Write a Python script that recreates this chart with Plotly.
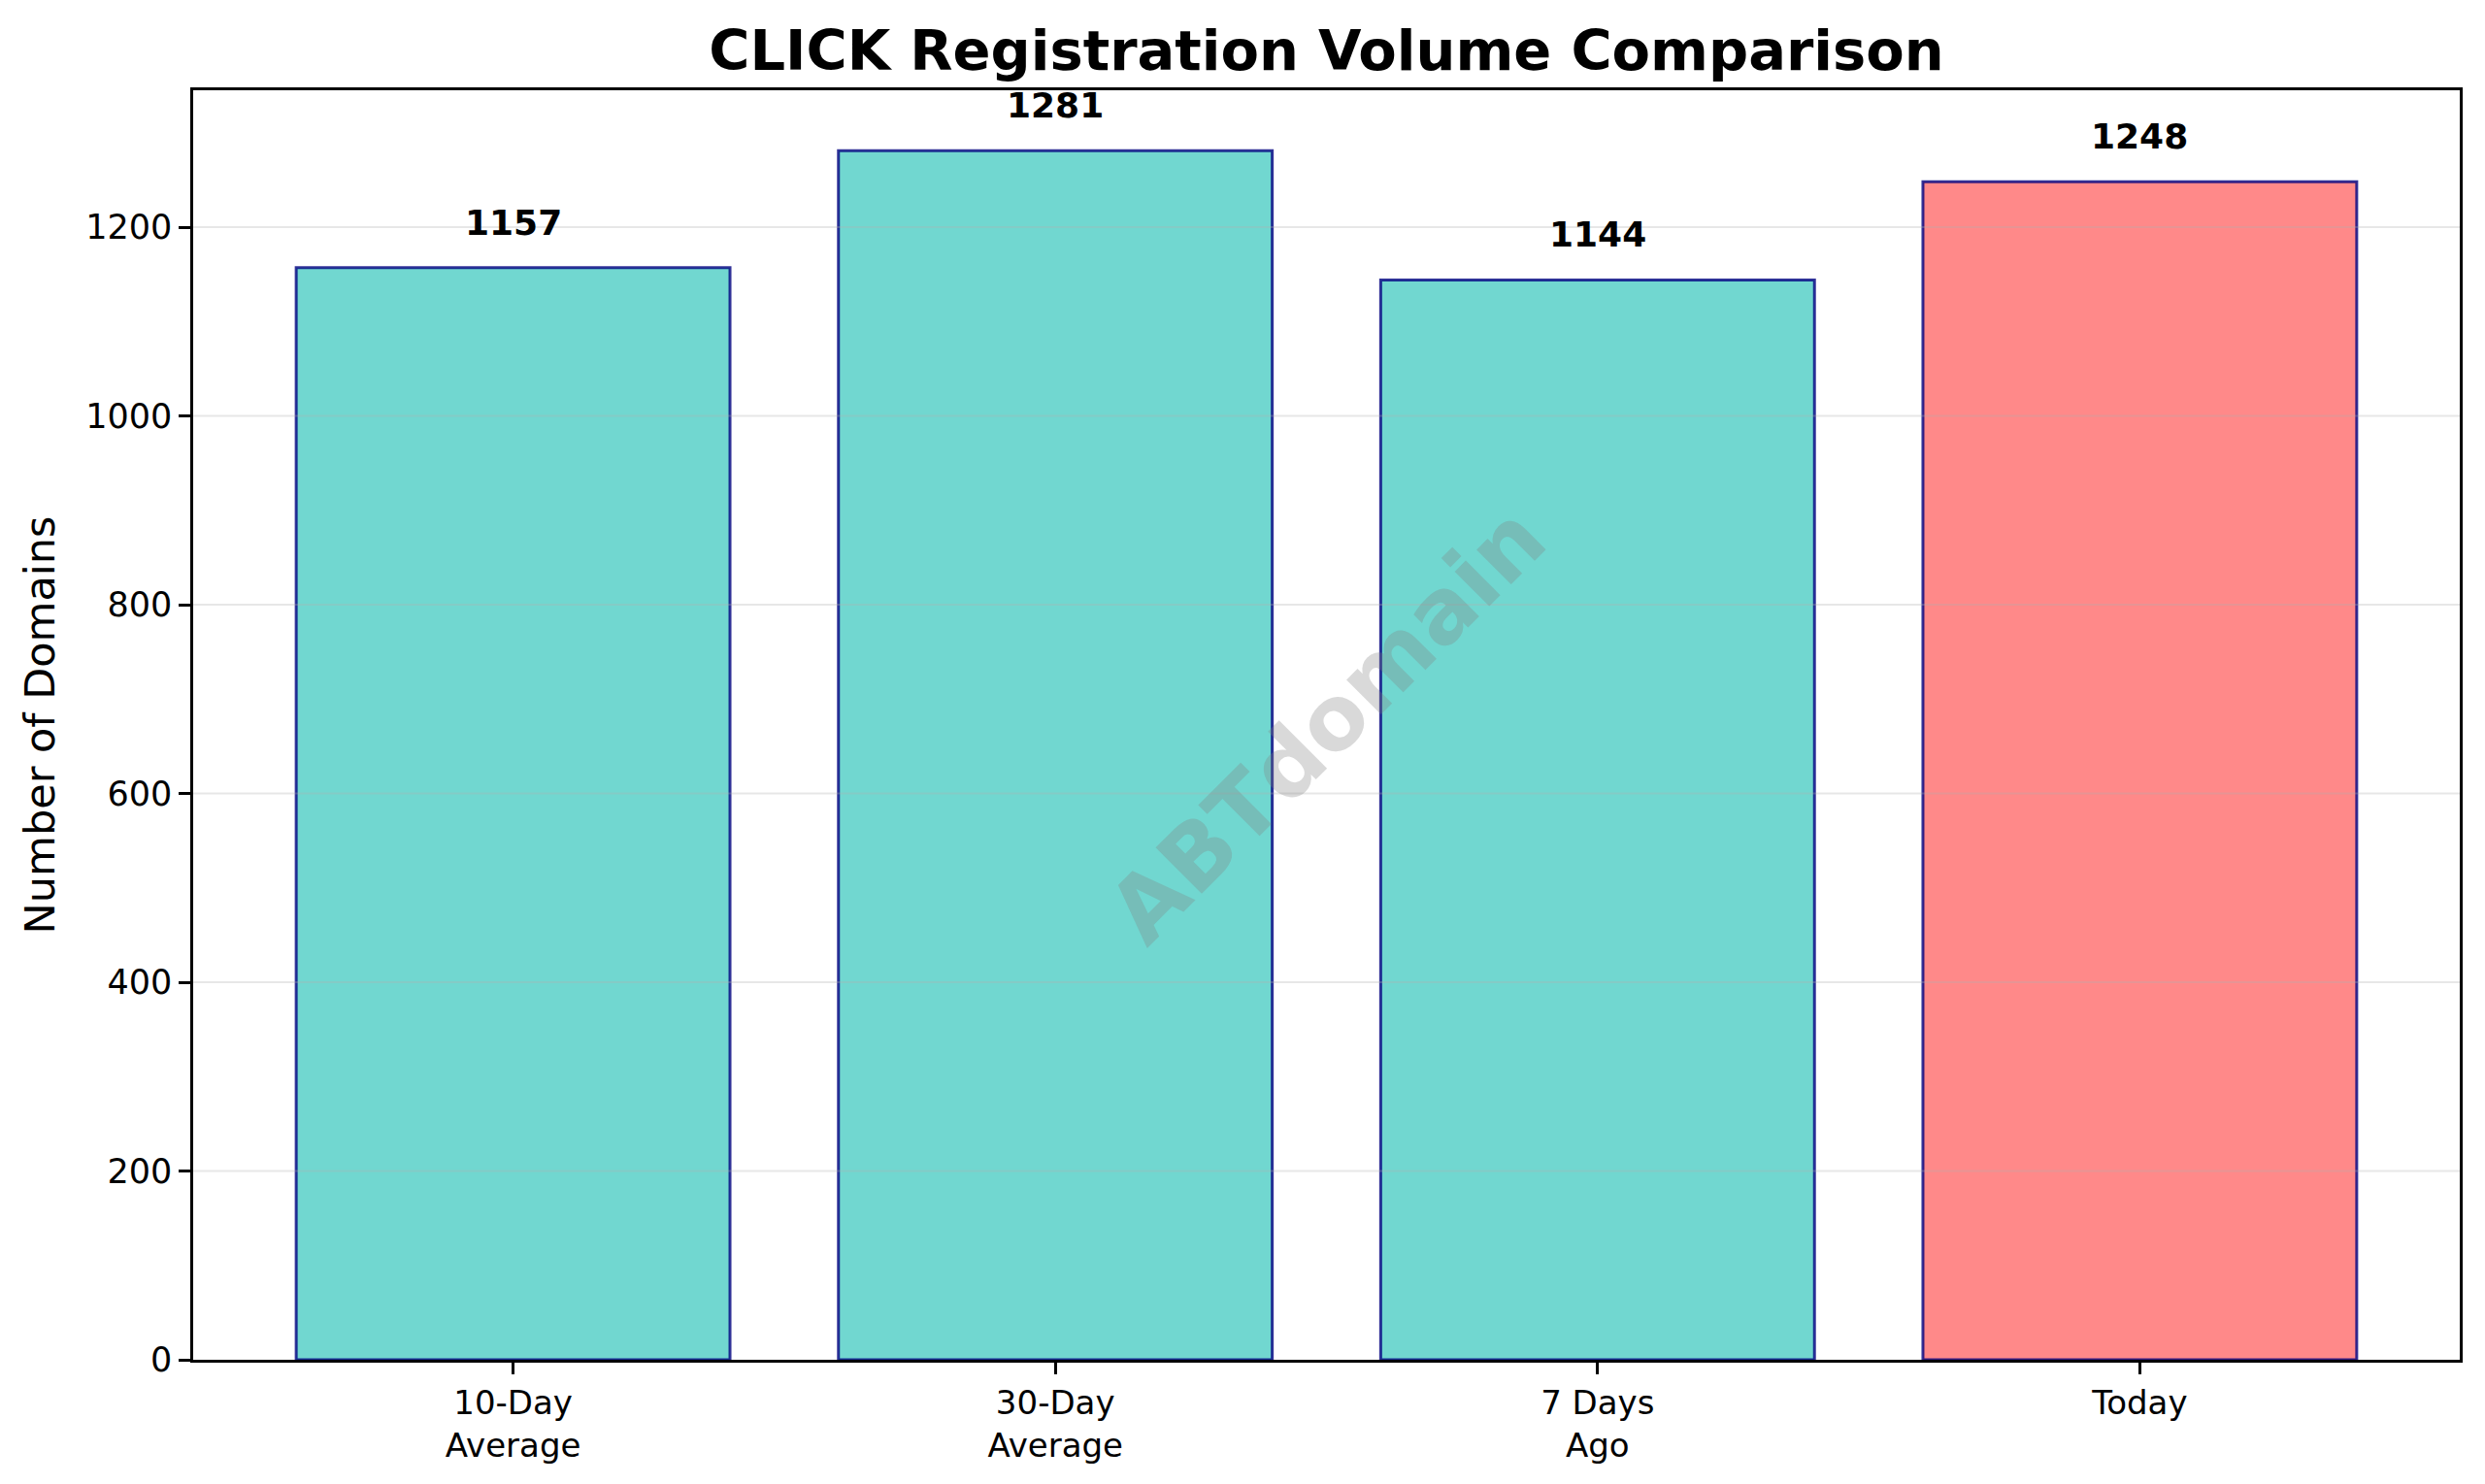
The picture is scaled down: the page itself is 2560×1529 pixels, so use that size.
import plotly.graph_objects as go

categories = ["10-Day<br>Average", "30-Day<br>Average", "7 Days<br>Ago", "Today"]
values = [1157, 1281, 1144, 1248]
bar_colors = ["rgba(78,205,196,0.8)", "rgba(78,205,196,0.8)", "rgba(78,205,196,0.8)", "rgba(255,107,107,0.8)"]
y_ticks = [0, 200, 400, 600, 800, 1000, 1200]
y_max = 1345
title_text = "CLICK Registration Volume Comparison"
y_title = "Number of Domains"
watermark = "ABTdomain"

FONT = "DejaVu Sans"

fig = go.Figure()
fig.add_trace(go.Bar(
    x=list(range(len(categories))),
    y=values,
    width=0.8,
    marker=dict(color=bar_colors, line=dict(color="rgba(0,0,128,0.8)", width=3)),
    showlegend=False,
    hoverinfo="skip",
))

annotations = []
for i, v in enumerate(values):
    annotations.append(dict(
        x=i, y=v, xref="x", yref="y", text=f"<b>{v}</b>", showarrow=False,
        yanchor="bottom", yshift=24,
        font=dict(family=FONT, size=36, color="black"),
    ))
annotations.append(dict(
    x=0.5, y=0.5, xref="paper", yref="paper", text=f"<b>{watermark}</b>",
    showarrow=False, textangle=-45,
    font=dict(family=FONT, size=92, color="rgba(128,128,128,0.3)"),
))

shapes = []
for t in y_ticks[1:]:
    shapes.append(dict(type="line", xref="paper", yref="y", x0=0, x1=1, y0=t, y1=t,
                       line=dict(color="rgba(176,176,176,0.3)", width=2), layer="above"))

fig.update_layout(
    width=2560, height=1529,
    margin=dict(l=199, r=26, t=93, b=128),
    paper_bgcolor="white", plot_bgcolor="white",
    font=dict(family=FONT, size=35, color="black"),
    title=dict(text=f"<b>{title_text}</b>", x=0.5, xanchor="center", xref="paper",
               y=1 - 52 / 1529, yanchor="middle", yref="container",
               font=dict(family=FONT, size=57.5, color="black")),
    xaxis=dict(
        range=[-0.59, len(categories) - 1 + 0.59],
        tickmode="array", tickvals=list(range(len(categories))), ticktext=categories,
        ticks="outside", ticklen=12, tickwidth=2.5, tickcolor="black",
        showline=True, linecolor="black", linewidth=2.5, mirror=True,
        showgrid=False, zeroline=False,
        tickfont=dict(family=FONT, size=34),
    ),
    yaxis=dict(
        range=[0, y_max],
        tickmode="array", tickvals=y_ticks, ticktext=[str(t) for t in y_ticks],
        ticks="outside", ticklen=12, tickwidth=2.5, tickcolor="black",
        showline=True, linecolor="black", linewidth=2.5, mirror=True,
        showgrid=False, zeroline=False,
        tickfont=dict(family=FONT, size=35),
        title=dict(text=y_title, standoff=19, font=dict(family=FONT, size=43)),
    ),
    annotations=annotations,
    shapes=shapes,
    bargap=0.2,
)

fig.write_html("out.html", config={"displayModeBar": False},
               post_script="document.body.style.margin='0px';document.body.style.overflow='hidden';")
